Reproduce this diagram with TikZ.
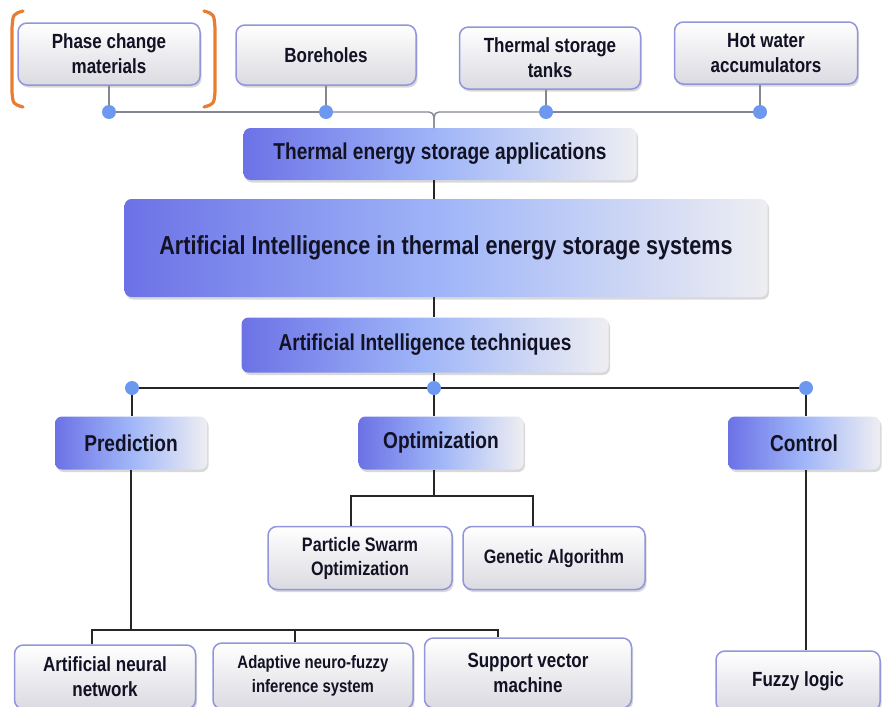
\documentclass[tikz,border=0pt]{standalone}
\usepackage{fontspec}
\setmainfont{Liberation Sans}[FakeStretch=0.83]
\usetikzlibrary{shadows}
\definecolor{gL}{RGB}{108,114,230}
\definecolor{gM}{RGB}{160,182,248}
\definecolor{gR}{RGB}{238,238,242}
\definecolor{gB}{RGB}{218,218,225}
\definecolor{gD}{RGB}{145,150,220}
\definecolor{txt}{RGB}{18,18,36}
\definecolor{dotc}{RGB}{108,152,240}
\definecolor{lineg}{RGB}{130,135,145}
\definecolor{brk}{RGB}{232,125,50}
\begin{document}
\begin{tikzpicture}[x=1pt,y=-1pt,
  grad/.style={rounded corners=7pt, left color=gL, right color=gR, middle color=gM,
    drop shadow={shadow xshift=1.5pt, shadow yshift=-2.5pt, opacity=0.3},
    font=\bfseries\fontsize{23}{27}\selectfont, text=txt, inner sep=0pt, align=center},
  gbox/.style={rounded corners=9pt, top color=white, bottom color=gB, draw=gD, line width=1.5pt,
    drop shadow={shadow xshift=1.5pt, shadow yshift=-2.5pt, opacity=0.3},
    font=\bfseries\fontsize{20.5}{25}\selectfont, text=txt, inner sep=0pt, align=center},
  dot/.style={circle, fill=dotc, inner sep=0pt, minimum size=14pt},
  gline/.style={draw=lineg, line width=1.4pt},
  bline/.style={draw=black!85, line width=2.2pt},
  kline/.style={draw=black!85, line width=1.6pt}]
\useasboundingbox (0,0) rectangle (887,707);
% top row
\node[gbox, minimum width=182pt, minimum height=62pt] (pcm) at (109,54) {Phase change\\materials};
\node[gbox, minimum width=180pt, minimum height=60pt] (bore) at (326,55) {Boreholes};
\node[gbox, minimum width=181pt, minimum height=62pt] (tst) at (550,58) {Thermal storage\\tanks};
\node[gbox, minimum width=183pt, minimum height=62pt] (hwa) at (766,53) {Hot water\\accumulators};
% brackets
\draw[brk, line width=3.2pt, line cap=round] (23,11) .. controls (13,14) .. (12,28) -- (12,92) .. controls (13,104) .. (23,107);
\draw[brk, line width=3.2pt, line cap=round] (204,11) .. controls (214,14) .. (215,28) -- (215,92) .. controls (214,104) .. (204,107);
% dots
\node[dot] (p1) at (109,112) {};
\node[dot] (p2) at (326,112) {};
\node[dot] (p3) at (546,112) {};
\node[dot] (p4) at (760,112) {};
% main column
\node[grad, minimum width=393pt, minimum height=52pt] (tes) at (440,154) {Thermal energy storage applications};
\node[grad, minimum width=643pt, minimum height=98pt, font=\bfseries\fontsize{26}{30}\selectfont] (ai) at (446,248) {Artificial Intelligence in thermal energy storage systems};
\node[grad, minimum width=367pt, minimum height=55pt] (tech) at (425,345) {Artificial Intelligence techniques};
\coordinate (tt) at (434,128);
% second level
\node[dot] (q1) at (132,388) {};
\node[dot] (q2) at (434,388) {};
\node[dot] (q3) at (806,388) {};
\node[grad, minimum width=152pt, minimum height=53pt] (pred) at (131,443) {Prediction};
\node[grad, minimum width=165pt, minimum height=53pt] (opt) at (441,443) {Optimization};
\node[grad, minimum width=152pt, minimum height=53pt] (ctrl) at (804,443) {Control};
% optimization children
\node[gbox, minimum width=184pt, minimum height=63pt, font=\bfseries\fontsize{19.5}{24}\selectfont] (pso) at (360,558) {Particle Swarm\\Optimization};
\node[gbox, minimum width=182pt, minimum height=63pt, font=\bfseries\fontsize{19.5}{24}\selectfont] (ga) at (554,558) {Genetic Algorithm};
% prediction children
\node[gbox, minimum width=181pt, minimum height=64pt] (ann) at (105,677) {Artificial neural\\network};
\node[gbox, minimum width=200pt, minimum height=66pt, font=\bfseries\fontsize{18}{24}\selectfont] (anfis) at (313,676) {Adaptive neuro-fuzzy\\inference system};
\node[gbox, minimum width=207pt, minimum height=70pt] (svm) at (528,673) {Support vector\\machine};
\node[gbox, minimum width=164pt, minimum height=60pt] (fuzzy) at (798,681) {Fuzzy logic};
% connectors top
\draw[gline] (p1 |- pcm.south) -- (p1);
\draw[gline] (p2 |- bore.south) -- (p2);
\draw[gline] (p3 |- tst.south) -- (p3);
\draw[gline] (p4 |- hwa.south) -- (p4);
\draw[gline] (p1) -- (p2);
\draw[gline] (p3) -- (p4);
\draw[gline, rounded corners=5pt] (p2) -| (tt);
\draw[gline, rounded corners=5pt] (p3) -| (tt);
\draw[kline] (tt |- tes.south) -- (tt |- ai.north);
\draw[kline] (tt |- ai.south) -- (tt |- tech.north);
\draw[kline] (tt |- tech.south) -- (q2);
% bus 2
\draw[bline] (q1) -- (q2);
\draw[bline] (q2) -- (q3);
\draw[kline] (q1) -- (q1 |- pred.north);
\draw[kline] (q2) -- (q2 |- opt.north);
\draw[kline] (q3) -- (q3 |- ctrl.north);
% optimization branch
\coordinate (ob) at (434,496);
\coordinate (oL) at (351,496);
\coordinate (oR) at (533,496);
\draw[bline] (ob |- opt.south) -- (ob);
\draw[bline] (oL |- pso.north) -- (oL) -- (oR) -- (oR |- ga.north);
% prediction branch
\coordinate (pb) at (131,630);
\coordinate (pL) at (92,630);
\coordinate (pM) at (295,630);
\coordinate (pR) at (498,630);
\draw[bline] (pb |- pred.south) -- (pb);
\draw[bline] (pL |- ann.north) -- (pL) -- (pR) -- (pR |- svm.north);
\draw[bline] (pM) -- (pM |- anfis.north);
% control branch
\coordinate (cb) at (806,470);
\draw[bline] (cb |- ctrl.south) -- (cb |- fuzzy.north);
\end{tikzpicture}
\end{document}
